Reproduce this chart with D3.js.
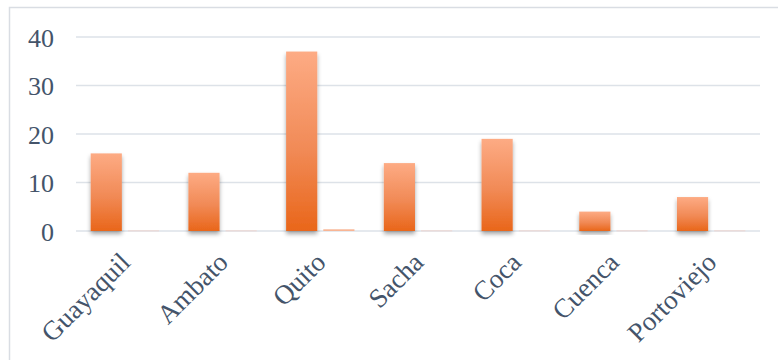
<!DOCTYPE html>
<html>
<head>
<meta charset="utf-8">
<script src="https://cdn.jsdelivr.net/npm/d3@7/dist/d3.min.js"></script>
<style>
  body { margin: 0; background: #fff; }
  svg { display: block; }
  .tick text { font-family: "Liberation Serif", "Times New Roman", serif; fill: #44546a; }
</style>
</head>
<body>
<svg id="chart"></svg>
<script>
// data
var cities = ["Guayaquil", "Ambato", "Quito", "Sacha", "Coca", "Cuenca", "Portoviejo"];
var serie1 = [16, 12, 37, 14, 19, 4, 7];
var serie2 = [0, 0, 0.35, 0, 0, 0, 0];
var yTicks = [0, 10, 20, 30, 40];

var W = 778, H = 360;
var margin = {left: 76, right: 18, top: 37, bottom: 129};

var svg = d3.select("#chart").attr("width", W).attr("height", H);

var defs = svg.append("defs");
var grad = defs.append("linearGradient")
  .attr("id", "barGrad")
  .attr("x1", 0).attr("y1", 1).attr("x2", 0).attr("y2", 0);
grad.append("stop").attr("offset", "0%").attr("stop-color", "#e9661a");
grad.append("stop").attr("offset", "45%").attr("stop-color", "#f18a56");
grad.append("stop").attr("offset", "100%").attr("stop-color", "#fdab84");

var shadow = defs.append("filter").attr("id", "shadow")
  .attr("x", "-30%").attr("y", "-10%").attr("width", "160%").attr("height", "130%");
shadow.append("feDropShadow")
  .attr("dx", 0).attr("dy", 3).attr("stdDeviation", 2)
  .attr("flood-color", "#000").attr("flood-opacity", 0.35);

// outer frame
svg.append("rect")
  .attr("x", 9.5).attr("y", 7.5)
  .attr("width", W + 20).attr("height", H + 20)
  .attr("fill", "none")
  .attr("stroke", "#d9dde3")
  .attr("stroke-width", 1.5);

var x0 = d3.scaleBand()
  .domain(cities)
  .range([margin.left, W - margin.right]);

// two series per city, second one is nearly empty
var sub = d3.scaleBand()
  .domain(["s1", "s2"])
  .range([0, x0.bandwidth()])
  .paddingInner(0.162)
  .paddingOuter(0.395);

var y = d3.scaleLinear()
  .domain([0, 40])
  .range([H - margin.bottom, margin.top]);

// gridlines
svg.append("g")
  .selectAll("line")
  .data(yTicks)
  .enter().append("line")
  .attr("x1", margin.left)
  .attr("x2", W - margin.right)
  .attr("y1", function(d) { return y(d); })
  .attr("y2", function(d) { return y(d); })
  .attr("stroke", "#dde2e8")
  .attr("stroke-width", 1.4);

// y axis labels
var yAxis = d3.axisLeft(y)
  .tickValues(yTicks)
  .tickSize(0)
  .tickPadding(22)
  .tickFormat(d3.format("d"));

svg.append("g")
  .attr("transform", "translate(" + margin.left + ",0)")
  .call(yAxis)
  .call(function(g) { g.select(".domain").remove(); })
  .selectAll("text")
  .style("font-size", "26px")
  .attr("dy", "0.35em");

// bars
var bars = svg.append("g");
bars.selectAll("rect.s1")
  .data(serie1)
  .enter().append("rect")
  .attr("class", "s1")
  .attr("x", function(d, i) { return x0(cities[i]) + sub("s1"); })
  .attr("width", sub.bandwidth())
  .attr("y", function(d) { return y(d); })
  .attr("height", function(d) { return y(0) - y(d); })
  .attr("fill", "url(#barGrad)")
  .attr("filter", "url(#shadow)");

bars.selectAll("rect.s2")
  .data(serie2)
  .enter().append("rect")
  .attr("class", "s2")
  .attr("x", function(d, i) { return x0(cities[i]) + sub("s2"); })
  .attr("width", sub.bandwidth())
  .attr("y", function(d) { return d > 0 ? y(d) : y(0) - 1; })
  .attr("height", function(d) { return d > 0 ? y(0) - y(d) : 1.5; })
  .attr("fill", function(d) { return d > 0 ? "#f8b594" : "#ebdcda"; });

// x axis labels
var xAxis = d3.axisBottom(x0).tickSize(0).tickPadding(0);
var gx = svg.append("g")
  .attr("transform", "translate(0," + y(0) + ")")
  .call(xAxis);
gx.select(".domain").remove();
gx.selectAll("text")
  .style("font-size", "27px")
  .attr("text-anchor", "end")
  .attr("dy", 0)
  .attr("transform", "translate(7,33) rotate(-45)");
</script>
</body>
</html>
